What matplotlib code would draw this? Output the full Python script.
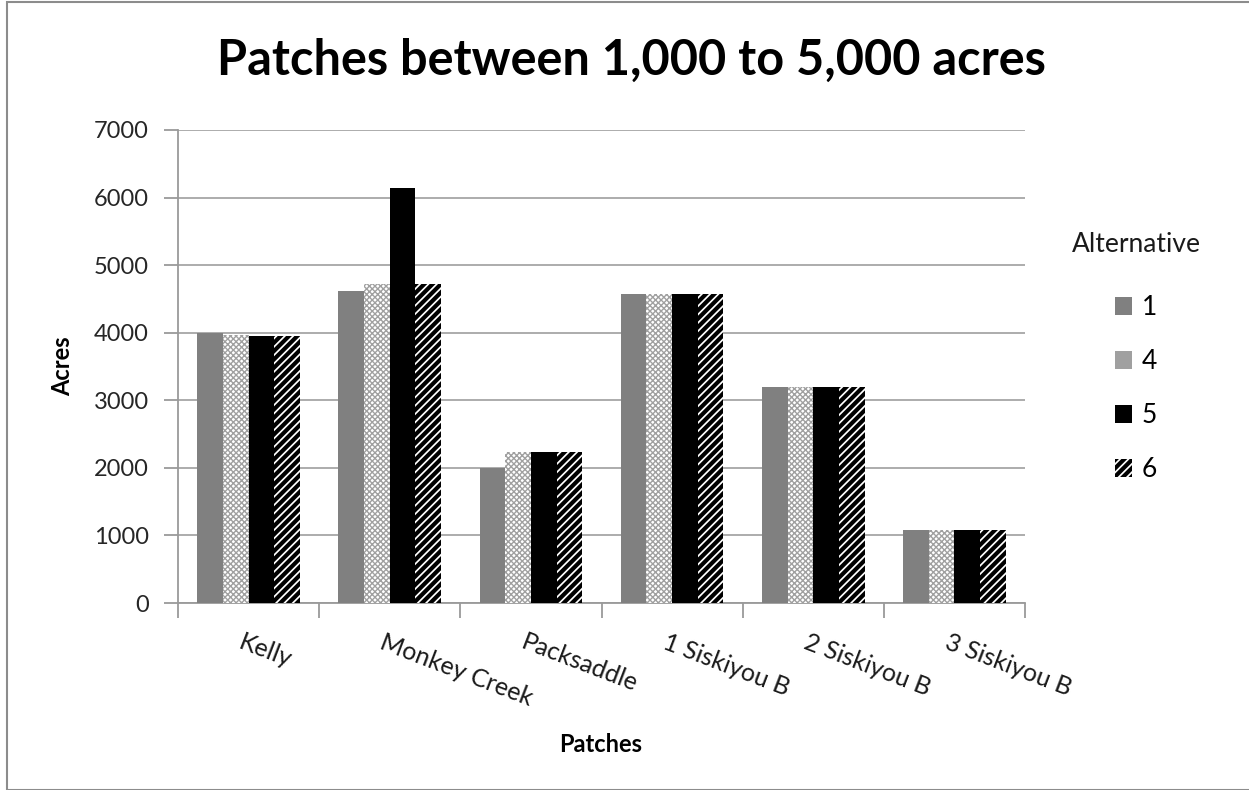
import numpy as np
import matplotlib
matplotlib.use("Agg")
import matplotlib.pyplot as plt
from matplotlib.patches import Rectangle

patches = ["Kelly", "Monkey Creek", "Packsaddle", "1 Siskiyou B", "2 Siskiyou B", "3 Siskiyou B"]
alternatives = ["1", "4", "5", "6"]
alt1 = [4000, 4620, 2000, 4580, 3190, 1075]
alt4 = [3960, 4720, 2235, 4580, 3190, 1075]
alt5 = [3950, 6140, 2235, 4580, 3190, 1075]
alt6 = [3950, 4720, 2235, 4580, 3190, 1075]

plt.rcParams['font.family'] = ['Lato', 'DejaVu Sans']

fig = plt.figure(figsize=(12.49, 7.90), dpi=100)
ax = fig.add_axes([178/1249, 1 - 603/790, (1025 - 178)/1249, (603 - 130)/790])

x = np.arange(len(patches))
w = 1 / 5.5
styles = [
    dict(color='#808080', edgecolor='#808080', hatch=None, hlw=1.0),
    dict(color='white', edgecolor='#a0a0a0', hatch='xxxxxx', hlw=1.0),
    dict(color='black', edgecolor='black', hatch=None, hlw=1.0),
    dict(color='white', edgecolor='black', hatch='////', hlw=3.0),
]
series = [alt1, alt4, alt5, alt6]
handles = []
for i, (vals, st) in enumerate(zip(series, styles)):
    plt.rcParams['hatch.linewidth'] = st['hlw']
    bars = ax.bar(x + (i - 1.5) * w, vals, width=w, color=st['color'],
                  edgecolor=st['edgecolor'], hatch=st['hatch'], linewidth=0,
                  zorder=3, label=alternatives[i])
    for b in bars:
        if hasattr(b, 'set_hatch_linewidth'):
            b.set_hatch_linewidth(st['hlw'])
    handles.append(bars)

ax.set_ylim(0, 7000)
ax.set_xlim(-0.5, len(patches) - 0.5)
ax.set_yticks(range(0, 7001, 1000))
ax.yaxis.grid(True, color='#a6a6a6', linewidth=1.3, zorder=0)
ax.set_axisbelow(True)

for s in ['top', 'right']:
    ax.spines[s].set_visible(False)
for s in ['left', 'bottom']:
    ax.spines[s].set_color('#9a9a9a')
    ax.spines[s].set_linewidth(1.3)

ax.set_xticks(np.arange(len(patches) + 1) - 0.5)
ax.set_xticklabels([])
ax.tick_params(axis='x', length=11, color='#9a9a9a', width=1.3, direction='out')
ax.tick_params(axis='y', length=10, color='#9a9a9a', width=1.3, direction='out',
               labelsize=17, labelcolor='#262626', pad=11)

# category names, slanted like the original
for xi, name in zip(x, patches):
    ax.text(xi - 0.03, -400, name, rotation=-21, rotation_mode='anchor',
            ha='left', va='top', fontsize=18, color='#1a1a1a')

ax.set_ylabel('Acres', fontsize=17, fontweight='bold', labelpad=14)
fig.text(601/1249, 1 - 745/790, 'Patches', ha='center', va='center',
         fontsize=17, fontweight='bold')
fig.text(631/1249, 1 - 60/790, 'Patches between 1,000 to 5,000 acres',
         ha='center', va='center', fontsize=35, fontweight='bold')

leg = fig.legend(handles=handles, labels=alternatives, title='Alternative',
                 loc='center', bbox_to_anchor=(1136/1249, 1 - 357/790),
                 frameon=False, fontsize=19, title_fontsize=19,
                 handlelength=0.65, handleheight=0.65, handletextpad=0.35,
                 labelspacing=1.1, borderpad=0)
leg.get_title().set_color('#1a1a1a')
leg._legend_box.sep = 28

fig.patches.append(Rectangle((7/1249, 0), 1.2, 1 - 2/790, transform=fig.transFigure,
                             fill=False, edgecolor='#8c8c8c', linewidth=1.5))

fig.savefig('out.png', dpi=100)
